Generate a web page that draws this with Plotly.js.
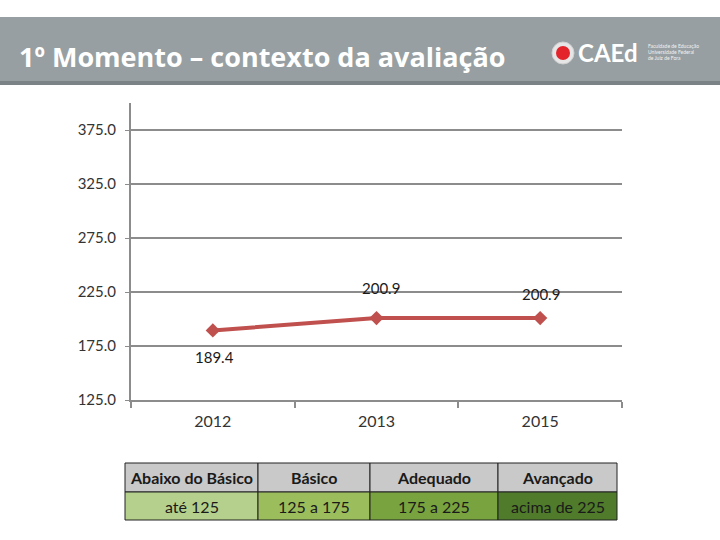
<!DOCTYPE html>
<html>
<head>
<meta charset="utf-8">
<script src="https://cdn.plot.ly/plotly-3.0.1.min.js"></script>
<style>
  html, body { margin: 0; padding: 0; background: #ffffff; }
  #chart { width: 720px; height: 540px; }
</style>
</head>
<body>
<div id="chart"></div>
<script>
// dados do gráfico
const anos = ['2012', '2013', '2015'];
const proficiencia = [189.4, 200.9, 200.9];
const yTicks = [125, 175, 225, 275, 325, 375];

// tabela de padrões
const padroes = ['Abaixo do Básico', 'Básico', 'Adequado', 'Avançado'];
const faixas = ['até 125', '125 a 175', '175 a 225', 'acima de 225'];

const FONT = 'Lato, "Open Sans", sans-serif';
const W = 720, H = 540;
const px = v => v / W;
const py = v => 1 - v / H;

// deslocamento de cada rótulo em pixels (estilo, não dado)
const labelShift = [[2, -27], [4, 30], [1, 24]];

// layout da tabela em pixels
const colEdges = [125, 258, 370, 498, 617];
const rowEdges = [463, 492, 520];
const cellColors = ['#b5d08c', '#9cbd5c', '#79a33e', '#4f7b2a'];

const lineTrace = {
    x: anos,
    y: proficiencia,
    type: 'scatter',
    mode: 'lines+markers',
    line: { color: '#c0504d', width: 4 },
    marker: { symbol: 'diamond', size: 11, color: '#c0504d' },
    hoverinfo: 'x+y'
};

const annotations = proficiencia.map((v, i) => ({
    x: i, y: v, xref: 'x', yref: 'y',
    text: v.toFixed(1),
    showarrow: false,
    xshift: labelShift[i][0],
    yshift: labelShift[i][1],
    font: { family: FONT, size: 15, color: '#1a1a1a' }
}));

// título do slide
annotations.push({
    x: px(17), y: py(56), xref: 'paper', yref: 'paper',
    xanchor: 'left', yanchor: 'middle',
    text: '<b>1º Momento – contexto da avaliação</b>',
    showarrow: false,
    font: { family: '"Open Sans", Lato, sans-serif', size: 27, color: '#ffffff' }
});
// logo CAEd
annotations.push({
    x: px(576), y: py(53), xref: 'paper', yref: 'paper',
    xanchor: 'left', yanchor: 'middle',
    text: '<b>CAEd</b>',
    showarrow: false,
    font: { family: FONT, size: 24, color: '#ffffff' }
});
['Faculdade de Educação', 'Universidade Federal', 'de Juiz de Fora'].forEach((t, i) => {
    annotations.push({
        x: px(646), y: py(46 + i * 6), xref: 'paper', yref: 'paper',
        xanchor: 'left', yanchor: 'middle',
        text: t, showarrow: false,
        font: { family: FONT, size: 5, color: '#f2f2f2' }
    });
});

const shapes = [
    { type: 'rect', xref: 'paper', yref: 'paper', x0: 0, x1: 1,
      y0: py(81), y1: py(17), fillcolor: '#979fa2', line: { width: 0 }, layer: 'below' },
    { type: 'rect', xref: 'paper', yref: 'paper', x0: 0, x1: 1,
      y0: py(85), y1: py(81), fillcolor: '#7b8386', line: { width: 0 }, layer: 'below' },
    { type: 'circle', xref: 'paper', yref: 'paper',
      x0: px(552), x1: px(574), y0: py(64), y1: py(42),
      fillcolor: '#e6e6e6', line: { color: '#cfcfcf', width: 1 } },
    { type: 'circle', xref: 'paper', yref: 'paper',
      x0: px(556), x1: px(570), y0: py(60), y1: py(46),
      fillcolor: '#e3242b', line: { width: 0 } }
];

// tabela: cabeçalho e faixas
padroes.forEach((p, i) => {
    const x0 = colEdges[i], x1 = colEdges[i + 1];
    shapes.push({ type: 'rect', xref: 'paper', yref: 'paper',
        x0: px(x0), x1: px(x1), y0: py(rowEdges[1]), y1: py(rowEdges[0]),
        fillcolor: '#c9c9c9', line: { color: '#222222', width: 1 } });
    shapes.push({ type: 'rect', xref: 'paper', yref: 'paper',
        x0: px(x0), x1: px(x1), y0: py(rowEdges[2]), y1: py(rowEdges[1]),
        fillcolor: cellColors[i], line: { color: '#222222', width: 1 } });
    annotations.push({ x: px((x0 + x1) / 2), y: py((rowEdges[0] + rowEdges[1]) / 2),
        xref: 'paper', yref: 'paper', xanchor: 'center', yanchor: 'middle',
        text: '<b>' + p + '</b>', showarrow: false,
        font: { family: FONT, size: 16, color: '#1a1a1a' } });
    annotations.push({ x: px((x0 + x1) / 2), y: py((rowEdges[1] + rowEdges[2]) / 2),
        xref: 'paper', yref: 'paper', xanchor: 'center', yanchor: 'middle',
        text: faixas[i], showarrow: false,
        font: { family: FONT, size: 16, color: '#1a1a1a' } });
});

const layout = {
    width: W,
    height: H,
    margin: { l: 0, r: 0, t: 0, b: 0 },
    paper_bgcolor: '#ffffff',
    plot_bgcolor: 'rgba(0,0,0,0)',
    showlegend: false,
    font: { family: FONT, color: '#333333' },
    xaxis: {
        domain: [px(131), px(622)],
        type: 'category',
        range: [-0.5, 2.5],
        showgrid: false,
        showline: true,
        linecolor: '#8c8c8c',
        linewidth: 2,
        ticks: 'outside',
        tickson: 'boundaries',
        ticklen: 6,
        tickwidth: 2,
        tickcolor: '#8c8c8c',
        ticklabelstandoff: 6,
        tickfont: { family: FONT, size: 16, color: '#333333' },
        fixedrange: true
    },
    yaxis: {
        domain: [py(400), py(103)],
        range: [125, 400],
        tickvals: yTicks,
        tickformat: '.1f',
        showgrid: true,
        gridcolor: '#8c8c8c',
        gridwidth: 2,
        zeroline: false,
        showline: true,
        linecolor: '#8c8c8c',
        linewidth: 2,
        ticks: 'outside',
        ticklen: 4,
        tickcolor: '#8c8c8c',
        ticklabelstandoff: 6,
        tickfont: { family: FONT, size: 15, color: '#333333' },
        fixedrange: true
    },
    shapes: shapes,
    annotations: annotations
};

Plotly.newPlot('chart', [lineTrace], layout, { displayModeBar: false, staticPlot: true });
</script>
</body>
</html>
